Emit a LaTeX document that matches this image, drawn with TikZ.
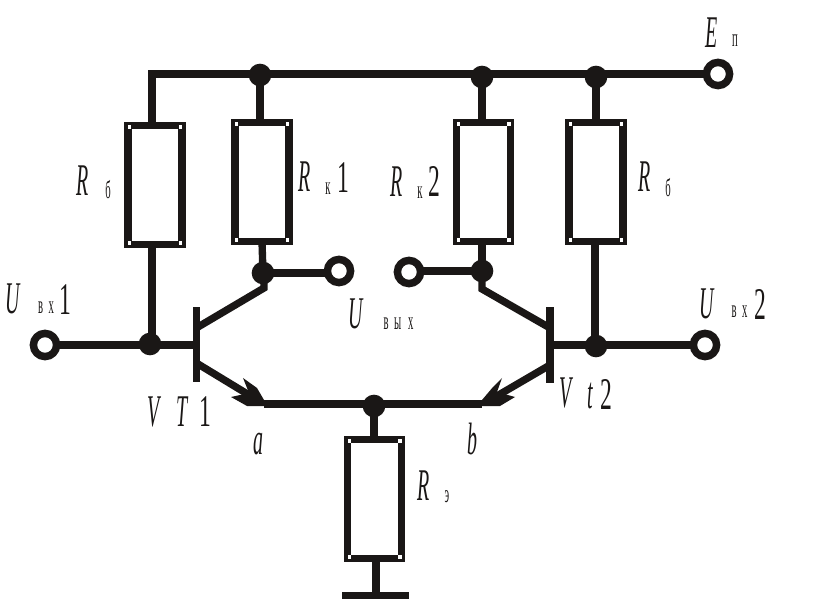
\documentclass[tikz,border=0pt]{standalone}
\usepackage{fontspec}
\setmainfont{Liberation Serif}
\usepackage{graphicx}
\usetikzlibrary{calc}
\definecolor{ink}{HTML}{1A1716}
\newcommand\bigtok[1]{\scalebox{.44}[1]{\fontsize{34}{34}\selectfont\itshape #1}}
\newcommand\digtok[1]{\scalebox{.52}[1]{\fontsize{34}{34}\selectfont #1}}
\newcommand\subtok[1]{\scalebox{.42}[1]{\fontsize{19}{19}\selectfont #1}}
\tikzset{
  wire/.style={draw=ink,line width=5.5pt,line cap=butt},
  resistor/.style={draw=ink,line width=5.5pt,fill=white,rectangle,minimum width=40.5pt,minimum height=89.5pt,inner sep=0pt,outer sep=0pt},
  joint/.style={circle,fill=ink,minimum size=17pt,inner sep=0pt,outer sep=0pt},
  port/.style={circle,draw=ink,line width=5.6pt,fill=white,minimum size=17.4pt,inner sep=0pt,outer sep=0pt},
  barbase/.style={fill=ink,draw=none,rectangle,minimum width=5.5pt,minimum height=56.5pt,inner sep=0pt,outer sep=0pt},
  tip/.style={fill=ink,draw=none},
  lbl/.style={text=ink,inner sep=0pt,outer sep=0pt,anchor=center},
  spot/.style={fill=white,draw=none,minimum size=2.4pt,inner sep=0pt,rectangle}
}
\begin{document}
\begin{tikzpicture}[x=.75pt,y=-.75pt]
\useasboundingbox (0,0) rectangle (827,605);
% wiring coordinates
\coordinate (c1a) at (198,327);
\coordinate (c1b) at (264,288);
\coordinate (e1a) at (198,364);
\coordinate (e1b) at (254,398);
\coordinate (c2a) at (550,328);
\coordinate (c2b) at (482,289);
\coordinate (e2a) at (550,365);
\coordinate (e2b) at (490,400);
\coordinate (t1) at (264,404);
\coordinate (t2) at (482,404);
\coordinate (corner) at (152,74);
\coordinate (g) at (376,595);
\coordinate (rail2) at (595,74);
% nodes that wires refer to
\node[resistor] (rb1) at (155,185) {};
\node[resistor] (rk1) at (262,182) {};
\node[resistor] (rk2) at (483.5,182) {};
\node[resistor] (rb2) at (596,182) {};
\node[resistor] (re) at (374.5,499) {};
\foreach \r in {rb1,rk1,rk2,rb2,re}{
  \foreach \a/\sx/\sy in {north west/1/1,north east/-1/1,south west/1/-1,south east/-1/-1}{
    \node[spot] at ($(\r.\a)+(\sx*1.6,\sy*1.6)$) {};
  }
}
\coordinate (j1) at (260,75);
\coordinate (j2) at (482,77);
\coordinate (j3) at (596,77);
\coordinate (j4) at (263,273);
\coordinate (j5) at (482,271);
\coordinate (j6) at (150,344);
\coordinate (j7) at (596,346);
\coordinate (j8) at (374,406);
\coordinate (pe0) at (718,74);
\coordinate (p10) at (45,345);
\coordinate (p20) at (705,345);
\coordinate (po10) at (339,271);
\coordinate (po20) at (409,272);
% wires
\draw[wire,line cap=butt,line join=miter] (rb1.north -| corner) -- (corner) -- (pe0);
\draw[wire] (j1 |- corner) -- (j1 |- rk1.north);
\draw[wire] (j2 |- corner) -- (j2 |- rk2.north);
\draw[wire] (j3 |- corner) -- (j3 |- rb2.north);
\draw[wire] (rb1.south -| corner) -- (corner |- j6);
\draw[wire] (p10) -- (196.5,345);
\draw[wire] (rk1.south) -- (j4);
\draw[wire] (j4) -- (po10 |- j4);
\draw[wire] (rk2.south -| j5) -- (j5);
\draw[wire] (j5) -- (po20 |- j5);
\draw[wire] (550,345) -- (p20);
\draw[wire] (rb2.south -| rail2) -- (rail2 |- j7);
\draw[wire] (j8) -- (j8 |- re.north);
\draw[wire] (t1) -- (t2);
\draw[wire] (re.south -| g) -- (g);
\draw[wire] (c1a) -- (c1b) -- (c1b |- j4);
\draw[wire] (e1a) -- (e1b);
\draw[wire] (c2a) -- (c2b) -- (c2b |- j5);
\draw[wire] (e2a) -- (e2b);
\fill[ink] (342,592) rectangle (409,599);
% arrow heads
\fill[tip] (264,406) -- (264,400) -- (257,388) -- (243,378) -- (249,393) -- (231,397) -- (247,406) -- cycle;
\fill[tip] (482,406) -- (482,400) -- (493,387) -- (502,378) -- (497,392) -- (515,397) -- (500,406) -- cycle;
% joints, ports, transistor bars
\foreach \n/\p in {jn1/j1,jn2/j2,jn3/j3,jn4/j4,jn5/j5,jn6/j6,jn7/j7,jn8/j8}{\node[joint] (\n) at (\p) {};}
\node[port] (pe) at (pe0) {};
\node[port] (p1) at (p10) {};
\node[port] (p2) at (p20) {};
\node[port] (po1) at (po10) {};
\node[port] (po2) at (po20) {};
\node[barbase] (b1) at (196.5,344.5) {};
\node[barbase] (b2) at (550,345) {};
% labels
\node[lbl] (l1) at (712,33) {\bigtok{E}};
\node[lbl] (l2) at (735,41) {\subtok{п}};
\node[lbl] (l3) at (13,299) {\bigtok{U}};
\node[lbl] (l4) at (46,308) {\subtok{в\hspace{10pt}х}};
\node[lbl] (l5) at (65,300) {\digtok{1}};
\node[lbl] (l6) at (83,181) {\bigtok{R}};
\node[lbl] (l7) at (108,190) {\subtok{б}};
\node[lbl] (l8) at (304.5,177) {\bigtok{R}};
\node[lbl] (l9) at (328,189) {\subtok{к}};
\node[lbl] (l10) at (343,178) {\digtok{1}};
\node[lbl] (l11) at (396.5,182) {\bigtok{R}};
\node[lbl] (l12) at (420,193) {\subtok{к}};
\node[lbl] (l13) at (434,181) {\digtok{2}};
\node[lbl] (l14) at (644.5,177) {\bigtok{R}};
\node[lbl] (l15) at (668,188) {\subtok{б}};
\node[lbl] (l16) at (355.5,314) {\bigtok{U}};
\node[lbl] (l17) at (398.5,324) {\subtok{в\hspace{10pt}ы\hspace{12pt}х}};
\node[lbl] (l18) at (706.5,304) {\bigtok{U}};
\node[lbl] (l19) at (739.5,312) {\subtok{в\hspace{10pt}х}};
\node[lbl] (l20) at (760,304) {\digtok{2}};
\node[lbl] (l21) at (154,412) {\bigtok{V}};
\node[lbl] (l22) at (182,412) {\bigtok{T}};
\node[lbl] (l23) at (205,412) {\digtok{1}};
\node[lbl] (l24) at (258,444) {\bigtok{a}};
\node[lbl] (l25) at (472,439) {\bigtok{b}};
\node[lbl] (l26) at (566,393) {\bigtok{V}};
\node[lbl] (l27) at (590,396) {\bigtok{t}};
\node[lbl] (l28) at (606,394) {\digtok{2}};
\node[lbl] (l29) at (424,486) {\bigtok{R}};
\node[lbl] (l30) at (447,497) {\subtok{э}};
\end{tikzpicture}
\end{document}
